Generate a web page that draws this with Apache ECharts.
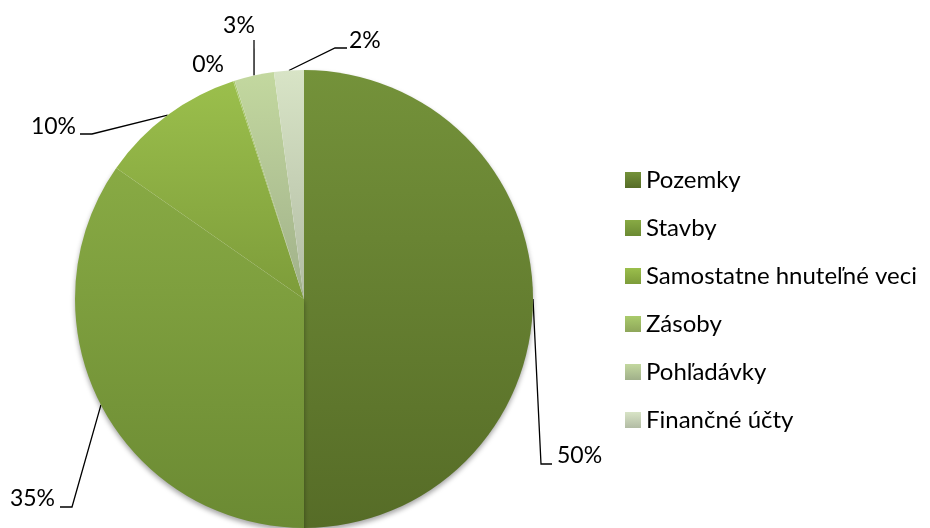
<!DOCTYPE html>
<html>
<head>
<meta charset="utf-8">
<script src="https://cdn.jsdelivr.net/npm/echarts@6/dist/echarts.min.js"></script>
<style>
  html, body { margin: 0; padding: 0; background: #fff; }
  #chart { width: 930px; height: 528px; }
</style>
</head>
<body>
<div id="chart"></div>
<script>
// data (shares in %)
var categories = ['Pozemky', 'Stavby', 'Samostatne hnuteľné veci', 'Zásoby', 'Pohľadávky', 'Finančné účty'];
var shares = [50.0, 34.7, 10.3, 0.1, 2.8, 2.1];

// top / bottom gradient colour of each slice
var colTop = ['#74923a', '#88aa44', '#9bbf4c', '#aacb6c', '#c3d89f', '#d8e4c6'];
var colBottom = ['#566c27', '#6b8a33', '#7d9c3a', '#8ea65a', '#a0b08a', '#b2bca4'];

// where each label sits: elbow of leader line, end of leader line, text anchor
var labelPos = [
    { elbow: [541, 464], end: [552, 464], x: 557, y: 456, align: 'left' },
    { elbow: [72, 507], end: [60, 507], x: 55, y: 499, align: 'right' },
    { elbow: [92, 134], end: [80, 134], x: 76, y: 127, align: 'right' },
    { x: 224, y: 65, align: 'right' },
    { elbow: [254, 40], x: 239, y: 26, align: 'center' },
    { elbow: [335, 48], end: [347, 48], x: 349, y: 41, align: 'left' }
];

var pieData = [];
for (var i = 0; i < categories.length; i++) {
    var item = {
        name: categories[i],
        value: shares[i],
        itemStyle: {
            color: new echarts.graphic.LinearGradient(0, 0, 0, 1, [
                { offset: 0, color: colTop[i] },
                { offset: 1, color: colBottom[i] }
            ])
        }
    };
    if (i < 2) {
        item.itemStyle.shadowBlur = 5;
        item.itemStyle.shadowOffsetY = 3;
        item.itemStyle.shadowColor = 'rgba(0,0,0,0.35)';
    }
    if (i == 3) {
        item.labelLine = { show: false };
    }
    pieData.push(item);
}

var font = 'Lato, "Open Sans", sans-serif';

var option = {
    backgroundColor: '#fff',
    animation: false,
    legend: {
        orient: 'vertical',
        left: 620,
        top: 163,
        itemWidth: 16,
        itemHeight: 16,
        itemGap: 24,
        icon: 'rect',
        data: categories,
        textStyle: {
            fontFamily: font,
            fontSize: 24,
            color: '#000'
        }
    },
    series: [{
        type: 'pie',
        center: [304, 299],
        radius: 229,
        startAngle: 90,
        clockwise: true,
        percentPrecision: 0,
        avoidLabelOverlap: false,
        data: pieData,
        label: {
            show: true,
            position: 'outside',
            formatter: '{d}%',
            fontFamily: font,
            fontSize: 23,
            color: '#000'
        },
        labelLine: {
            show: true,
            length: 20,
            length2: 10,
            lineStyle: { color: '#000', width: 1.3 }
        },
        labelLayout: function (params) {
            var p = labelPos[params.dataIndex];
            var res = { x: p.x, y: p.y, align: p.align, verticalAlign: 'middle' };
            if (p.elbow && params.labelLinePoints) {
                var pts = [params.labelLinePoints[0], p.elbow];
                if (p.end) pts.push(p.end);
                res.labelLinePoints = pts;
            }
            return res;
        },
        emphasis: { disabled: true }
    }]
};

var chart = echarts.init(document.getElementById('chart'));
chart.setOption(option);
</script>
</body>
</html>
